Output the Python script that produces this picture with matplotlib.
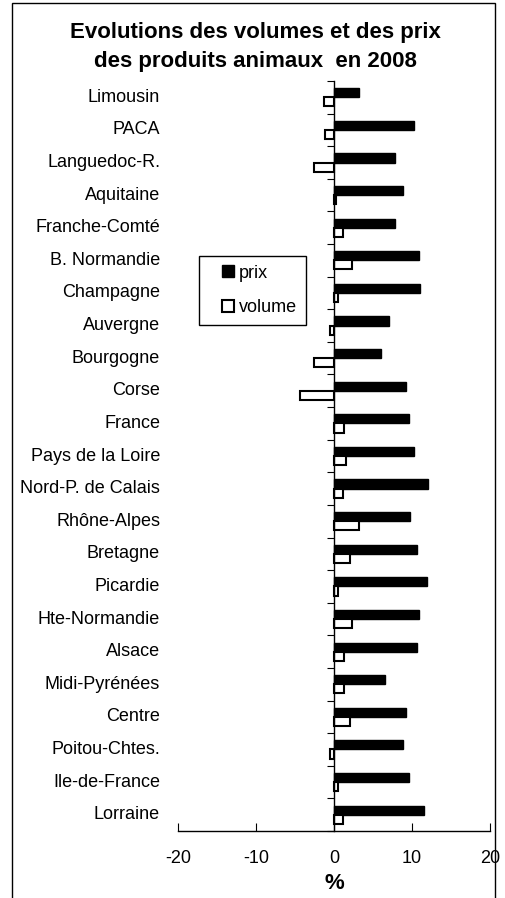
import matplotlib
matplotlib.use('Agg')
import matplotlib.pyplot as plt
import numpy as np
from matplotlib.patches import Rectangle
from matplotlib.lines import Line2D

plt.rcParams['font.family'] = ['Liberation Sans', 'DejaVu Sans']
plt.rcParams['axes.unicode_minus'] = False

regions = ['Limousin', 'PACA', 'Languedoc-R.', 'Aquitaine', 'Franche-Comté',
           'B. Normandie', 'Champagne', 'Auvergne', 'Bourgogne', 'Corse',
           'France', 'Pays de la Loire', 'Nord-P. de Calais', 'Rhône-Alpes',
           'Bretagne', 'Picardie', 'Hte-Normandie', 'Alsace', 'Midi-Pyrénées',
           'Centre', 'Poitou-Chtes.', 'Ile-de-France', 'Lorraine']
prix = [3.2, 10.3, 7.8, 8.8, 7.8, 10.9, 11.1, 7.0, 6.0, 9.3, 9.6, 10.3,
        12.1, 9.8, 10.6, 11.9, 10.9, 10.6, 6.5, 9.3, 8.8, 9.6, 11.6]
volume = [-1.3, -1.1, -2.6, 0.3, 1.1, 2.3, 0.55, -0.5, -2.6, -4.3, 1.35, 1.6,
          1.1, 3.15, 2.1, 0.55, 2.3, 1.35, 1.35, 2.1, -0.5, 0.55, 1.1]

fig = plt.figure(figsize=(5.06, 8.98), dpi=100)
ax = fig.add_axes([0.352, 0.0746, 0.616, 0.8352])

y = np.arange(len(regions))
h = 0.28
ax.barh(y - h / 2, prix, height=h, color='black', edgecolor='black',
        linewidth=1.0)
ax.barh(y + h / 2, volume, height=h, color='white', edgecolor='black',
        linewidth=1.5)

ax.set_xlim(-20, 20)
ax.set_ylim(len(regions) - 0.5, -0.5)
ax.spines['top'].set_visible(False)
ax.spines['right'].set_visible(False)
ax.spines['left'].set_position(('data', 0))
ax.spines['left'].set_linewidth(1.0)
ax.spines['bottom'].set_linewidth(1.0)

ax.set_xticks([-20, -10, 0, 10, 20])
ax.tick_params(axis='x', direction='in', length=6, labelsize=13, pad=14)
ax.set_yticks(np.arange(len(regions) + 1) - 0.5)
ax.set_yticklabels([])
ax.tick_params(axis='y', direction='out', length=5)
for i, name in enumerate(regions):
    ax.text(-0.058, i, name, transform=ax.get_yaxis_transform(),
            ha='right', va='center', fontsize=13)

ax.set_xlabel('%', fontsize=16, fontweight='bold')
ax.xaxis.set_label_coords(0.5, -0.056)

handles = [Line2D([], [], linestyle='none', marker='s', markersize=8.5,
                  markerfacecolor='black', markeredgecolor='black'),
           Line2D([], [], linestyle='none', marker='s', markersize=8.5,
                  markerfacecolor='white', markeredgecolor='black',
                  markeredgewidth=1.5)]
leg = ax.legend(handles, ['prix', 'volume'], loc='upper left',
                bbox_to_anchor=(0.068, 0.767), frameon=True, fancybox=False,
                edgecolor='black', fontsize=13, numpoints=1,
                handlelength=2.2, handletextpad=-0.5, labelspacing=0.95,
                borderpad=0.5, borderaxespad=0)
leg.get_frame().set_linewidth(1.0)
leg.get_frame().set_alpha(1.0)

fig.text(0.505, 0.964, 'Evolutions des volumes et des prix', ha='center',
         va='center', fontsize=16, fontweight='bold')
fig.text(0.505, 0.931, 'des produits animaux  en 2008', ha='center',
         va='center', fontsize=16, fontweight='bold')

fig.patches.append(Rectangle((0.023, -0.05), 0.955, 1.047,
                             transform=fig.transFigure, fill=False,
                             edgecolor='black', linewidth=1.0))

plt.savefig('out.png', dpi=100)
